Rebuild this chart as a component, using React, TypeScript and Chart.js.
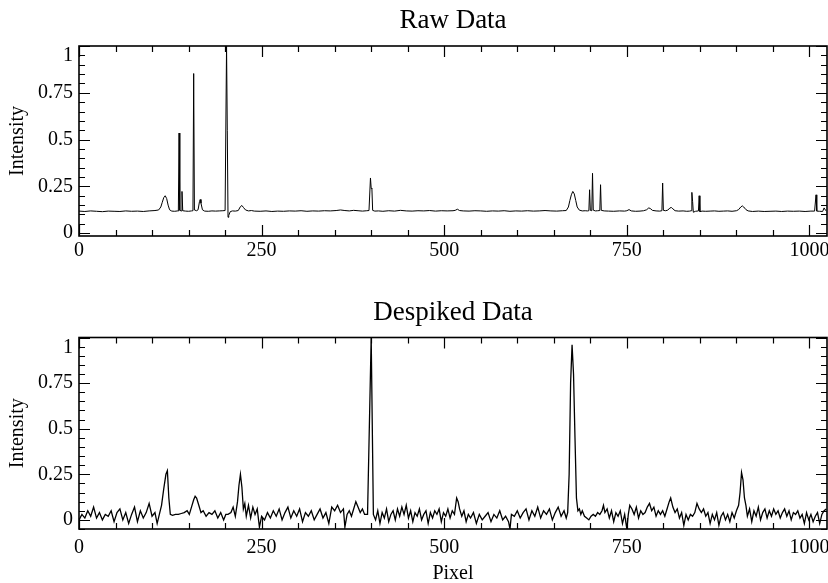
import React, { useEffect, useRef } from "react";
import { Chart, registerables } from "chart.js";

Chart.register(...registerables);

// ---------- data ----------
const rawPixel = [
  0, 8, 16, 24, 32, 40, 48, 56, 64, 72,
  80, 88, 96, 104, 109, 112, 114, 116, 118, 120,
  122, 124, 127, 131, 135, 136, 137, 138, 140, 141,
  142, 146, 150, 154, 156, 157, 158, 161, 163, 165,
  166, 167, 169, 172, 177, 182, 187, 192, 197, 200,
  202, 203, 204, 205, 207, 210, 214, 218, 221, 223,
  225, 228, 232, 236, 240, 248, 256, 264, 272, 280,
  288, 296, 304, 312, 320, 328, 336, 344, 352, 358,
  364, 370, 376, 382, 388, 394, 397, 399, 400, 401,
  402, 405, 410, 416, 424, 432, 440, 448, 456, 464,
  472, 480, 488, 496, 504, 512, 515, 518, 521, 526,
  534, 542, 550, 558, 566, 574, 582, 590, 598, 606,
  614, 622, 630, 638, 646, 654, 662, 667, 670, 672,
  674, 676, 678, 680, 682, 685, 689, 693, 696, 698,
  699, 700, 702, 703, 704, 707, 710, 713, 714, 715,
  719, 725, 732, 740, 747, 750, 753, 756, 762, 768,
  773, 777, 780, 782, 785, 790, 795, 798, 799, 800,
  803, 806, 809, 811, 813, 816, 821, 827, 832, 836,
  838, 839, 840, 841, 844, 848, 849, 850, 853, 858,
  864, 870, 876, 882, 888, 894, 900, 903, 906, 908,
  910, 913, 916, 922, 930, 938, 946, 954, 962, 970,
  978, 986, 994, 1002, 1007, 1009, 1010, 1014, 1018, 1020,
  1022, 1023,
];
const rawIntensity = [
  0.118, 0.116, 0.119, 0.117, 0.115, 0.118, 0.117, 0.116, 0.119, 0.117,
  0.118, 0.116, 0.119, 0.121, 0.124, 0.14, 0.165, 0.19, 0.2, 0.185,
  0.15, 0.125, 0.118, 0.117, 0.119, 0.118, 0.535, 0.122, 0.119, 0.223,
  0.12, 0.118, 0.117, 0.119, 0.12, 0.853, 0.124, 0.12, 0.125, 0.17,
  0.18, 0.16, 0.125, 0.118, 0.117, 0.119, 0.118, 0.119, 0.12, 0.121,
  1.0, 0.55, 0.085, 0.095, 0.115, 0.119, 0.118, 0.121, 0.142, 0.148,
  0.138, 0.124, 0.119, 0.121, 0.118, 0.117, 0.119, 0.116, 0.118, 0.117,
  0.119, 0.118, 0.12, 0.117, 0.119, 0.118, 0.12, 0.119, 0.121, 0.124,
  0.121, 0.119, 0.122, 0.12, 0.118, 0.12, 0.121, 0.295, 0.24, 0.236,
  0.122, 0.118, 0.119, 0.117, 0.12, 0.118, 0.122, 0.119, 0.118, 0.12,
  0.119, 0.121, 0.118, 0.12, 0.119, 0.12, 0.122, 0.128, 0.121, 0.119,
  0.118, 0.12, 0.119, 0.117, 0.119, 0.118, 0.12, 0.117, 0.119, 0.118,
  0.12, 0.118, 0.119, 0.121, 0.119, 0.118, 0.12, 0.121, 0.14, 0.175,
  0.205, 0.223, 0.21, 0.175, 0.14, 0.123, 0.119, 0.12, 0.119, 0.12,
  0.232, 0.122, 0.12, 0.32, 0.123, 0.119, 0.12, 0.121, 0.259, 0.122,
  0.119, 0.118, 0.117, 0.119, 0.118, 0.12, 0.126, 0.119, 0.117, 0.118,
  0.12, 0.125, 0.135, 0.132, 0.122, 0.119, 0.118, 0.12, 0.268, 0.122,
  0.12, 0.123, 0.135, 0.137, 0.13, 0.12, 0.118, 0.119, 0.117, 0.118,
  0.12, 0.218, 0.17, 0.112, 0.117, 0.119, 0.2, 0.115, 0.118, 0.117,
  0.118, 0.119, 0.117, 0.118, 0.119, 0.117, 0.12, 0.126, 0.14, 0.146,
  0.14, 0.126, 0.119, 0.116, 0.118, 0.116, 0.117, 0.118, 0.116, 0.118,
  0.117, 0.118, 0.116, 0.118, 0.118, 0.205, 0.118, 0.117, 0.116, 0.135,
  0.122, 0.12,
];

const despikedPixel = [
  0, 4, 8, 12, 16, 20, 24, 28, 32, 36,
  40, 44, 48, 52, 56, 60, 64, 68, 72, 76,
  80, 84, 88, 92, 96, 100, 104, 107, 110, 113,
  116, 119, 121, 123, 125, 128, 132, 136, 140, 144,
  148, 151, 154, 157, 159, 161, 164, 167, 170, 174,
  178, 182, 186, 190, 194, 198, 201, 204, 208, 211,
  214, 217, 219, 221, 223, 225, 227, 229, 232, 235,
  238, 241, 244, 247, 250, 254, 258, 262, 266, 270,
  274, 278, 282, 286, 290, 294, 298, 302, 306, 310,
  314, 318, 322, 326, 330, 334, 338, 342, 346, 350,
  354, 358, 362, 364, 367, 370, 373, 376, 379, 382,
  385, 388, 391, 395, 400, 403, 406, 409, 412, 415,
  418, 421, 424, 427, 430, 433, 436, 439, 442, 445,
  448, 451, 454, 457, 460, 463, 466, 469, 472, 475,
  478, 481, 484, 487, 490, 493, 496, 499, 502, 505,
  508, 511, 514, 517, 519, 521, 524, 527, 530, 533,
  536, 540, 544, 548, 552, 556, 560, 564, 568, 572,
  576, 580, 584, 588, 590, 592, 596, 600, 604, 608,
  612, 616, 620, 624, 628, 632, 636, 640, 644, 648,
  652, 656, 660, 664, 667, 669, 671, 673, 675, 677,
  679, 681, 683, 685, 687, 689, 692, 695, 698, 701,
  704, 707, 710, 713, 716, 718, 720, 723, 726, 729,
  732, 735, 738, 741, 744, 747, 750, 752, 754, 757,
  760, 763, 766, 769, 772, 775, 778, 781, 784, 787,
  790, 793, 796, 799, 802, 805, 808, 810, 813, 816,
  819, 822, 825, 828, 831, 834, 837, 840, 843, 846,
  849, 852, 855, 858, 861, 864, 867, 870, 873, 876,
  879, 882, 885, 888, 891, 894, 897, 900, 903, 905,
  907, 909, 911, 913, 915, 918, 921, 924, 927, 930,
  933, 936, 939, 942, 945, 948, 951, 954, 957, 960,
  963, 966, 969, 972, 975, 978, 981, 984, 987, 990,
  993, 996, 999, 1002, 1005, 1008, 1011, 1014, 1017, 1020,
  1023,
];
const despikedIntensity = [
  0, 0.03, 0.01, 0.05, 0.02, 0.07, 0.01, 0.04, 0, 0.03,
  0.02, 0.05, -0.01, 0.04, 0.06, 0, 0.04, -0.02, 0.03, 0.07,
  -0.01, 0.05, 0.01, 0.04, 0.09, 0.02, 0.04, -0.02, 0.03, 0.08,
  0.17, 0.25, 0.27, 0.12, 0.03, 0.025, 0.03, 0.03, 0.035, 0.04,
  0.05, 0.03, 0.07, 0.11, 0.13, 0.12, 0.08, 0.04, 0.05, 0.02,
  0.04, 0.03, 0.05, 0.01, 0.04, 0, 0.03, 0.03, 0.04, 0.07,
  0.02, 0.1, 0.19, 0.25, 0.18, 0.06, 0.09, 0.02, 0.08, 0.01,
  0.07, 0.03, 0.06, -0.04, 0.02, 0, 0.04, 0.01, 0.05, 0.02,
  0.06, 0, 0.04, 0.07, 0.01, 0.05, 0.02, 0.06, -0.01, 0.04,
  0.02, 0.05, 0, 0.03, 0.06, 0.01, 0.04, -0.02, 0.07, 0.05,
  0.08, 0.04, 0.06, -0.04, 0.03, 0.05, 0.02, 0.06, 0.1, 0.07,
  0.04, 0.06, 0.03, 0.03, 1.0, 0.03, 0, 0.05, -0.02, 0.04,
  0.01, 0.06, -0.01, 0.03, 0.05, 0, 0.06, 0.02, 0.07, 0.03,
  0.08, 0.01, 0.05, -0.01, 0.04, 0.02, 0.06, 0, 0.03, 0.05,
  -0.02, 0.04, 0.01, 0.05, 0.03, 0.06, -0.01, 0.04, 0.02, 0.06,
  0.01, 0.05, 0.03, 0.12, 0.1, 0.06, 0.02, 0.05, -0.01, 0.03,
  0.01, 0.04, -0.02, 0.03, 0, 0.02, 0.04, -0.01, 0.03, 0.01,
  0.05, 0, 0.02, -0.01, -0.05, 0.03, 0.02, 0.05, 0.01, 0.04,
  0.06, 0, 0.05, 0.02, 0.07, 0.01, 0.05, 0.03, 0.06, 0,
  0.04, 0.07, 0.02, 0.05, 0.01, 0.04, 0.25, 0.75, 0.96, 0.8,
  0.45, 0.12, 0.05, 0.06, 0.03, 0.05, 0.02, 0.01, 0, 0.02,
  0.03, 0.02, 0.04, 0.03, 0.05, 0.08, 0.04, 0.06, 0.01, 0.05,
  -0.01, 0.04, 0.02, 0.05, -0.02, 0.03, -0.05, 0.03, 0.08, 0.06,
  0.03, 0.07, 0.01, 0.05, 0.03, 0.04, 0.07, 0.09, 0.05, 0.07,
  0.02, 0.05, 0.03, 0.05, 0.02, 0.06, 0.1, 0.12, 0.07, 0.04,
  0.06, 0.01, 0.04, -0.03, 0.03, 0, 0.03, 0.02, 0.04, 0.09,
  0.06, 0.04, 0.06, 0.02, 0.04, -0.02, 0.03, 0, 0.04, -0.03,
  0.02, 0.04, 0, 0.03, -0.01, 0.04, 0.01, 0.05, 0.08, 0.15,
  0.26, 0.22, 0.12, 0.08, 0.02, 0.06, -0.01, 0.05, 0.02, 0.07,
  0, 0.04, 0.06, 0.01, 0.05, 0.02, 0.06, 0.03, 0.05, 0.01,
  0.04, 0.06, 0.02, 0.05, 0, 0.04, 0.03, 0.05, 0.01, 0.03,
  -0.02, 0.04, 0, 0.03, -0.01, 0.02, 0.04, -0.02, 0.03, 0.05,
  0.06,
];

const xTickValues = [0, 250, 500, 750, 1000];
const yTickValues = [0, 0.25, 0.5, 0.75, 1];
const X_MIN = 0;
const X_MAX = 1024;
const X_MINOR_STEP = 50;
const Y_MINOR_STEP = 0.05;

const SERIF = "'Liberation Serif', 'Times New Roman', 'DejaVu Serif', serif";

// IDL-like frame: box + inward major/minor ticks on all four sides
const framePlugin = {
  id: "idlFrame",
  afterDatasetsDraw(chart: any) {
    const { ctx, chartArea: a, scales } = chart;
    const xs = scales.x;
    const ys = scales.y;
    ctx.save();
    ctx.strokeStyle = "#000";
    ctx.lineWidth = 1.2;
    ctx.beginPath();
    const nx = Math.round((X_MAX - X_MIN) / X_MINOR_STEP);
    for (let i = 0; i <= nx; i++) {
      const v = X_MIN + i * X_MINOR_STEP;
      if (v > X_MAX) break;
      const major = xTickValues.includes(v);
      const len = major ? 11 : 6;
      const px = Math.round(xs.getPixelForValue(v)) + 0.5;
      ctx.moveTo(px, a.bottom);
      ctx.lineTo(px, a.bottom - len);
      ctx.moveTo(px, a.top);
      ctx.lineTo(px, a.top + len);
    }
    const kMin = Math.ceil(ys.min / Y_MINOR_STEP - 1e-6);
    const kMax = Math.floor(ys.max / Y_MINOR_STEP + 1e-6);
    for (let k = kMin; k <= kMax; k++) {
      const v = k * Y_MINOR_STEP;
      const major = k % 5 === 0;
      const len = major ? 11 : 6;
      const py = Math.round(ys.getPixelForValue(v)) + 0.5;
      ctx.moveTo(a.left, py);
      ctx.lineTo(a.left + len, py);
      ctx.moveTo(a.right, py);
      ctx.lineTo(a.right - len, py);
    }
    ctx.stroke();
    ctx.lineWidth = 1.6;
    ctx.strokeRect(a.left, a.top, a.right - a.left, a.bottom - a.top);
    ctx.restore();
  },
};

type PanelOpts = {
  pixel: number[];
  intensity: number[];
  title: string;
  yMin: number;
  yMax: number;
  titlePadTop: number;
  titlePadBottom: number;
  xLabelPad: number;
  xTitle: string | null;
  lineWidth: number;
};

function makeConfig(o: PanelOpts): any {
  return {
    type: "line",
    data: {
      datasets: [
        {
          data: o.pixel.map((x, i) => ({ x, y: o.intensity[i] })),
          borderColor: "#000",
          borderWidth: o.lineWidth,
          pointRadius: 0,
          tension: 0,
          fill: false,
        },
      ],
    },
    options: {
      animation: false,
      responsive: false,
      maintainAspectRatio: false,
      devicePixelRatio: 1,
      layout: { padding: { left: 0, right: 1, top: 0, bottom: 0 } },
      plugins: {
        legend: { display: false },
        tooltip: { enabled: false },
        title: {
          display: true,
          text: o.title,
          fullSize: false,
          color: "#000",
          font: { family: SERIF, size: 27, weight: "normal", lineHeight: 1.2 },
          padding: { top: o.titlePadTop, bottom: o.titlePadBottom },
        },
      },
      scales: {
        x: {
          type: "linear",
          min: X_MIN,
          max: X_MAX,
          grid: { display: false, drawTicks: false },
          border: { display: false },
          afterBuildTicks: (s: any) => {
            s.ticks = xTickValues.map((v) => ({ value: v }));
          },
          afterFit: (s: any) => {
            s.height = 54;
            s.paddingLeft = 0;
            s.paddingRight = 0;
          },
          ticks: {
            color: "#000",
            font: { family: SERIF, size: 20, lineHeight: 1.2 },
            padding: o.xLabelPad,
            maxRotation: 0,
            autoSkip: false,
            callback: (v: any) => String(v),
          },
          title: {
            display: !!o.xTitle,
            text: o.xTitle || "",
            color: "#000",
            font: { family: SERIF, size: 20, lineHeight: 0.9 },
            padding: { top: 0, bottom: 0 },
          },
        },
        y: {
          type: "linear",
          min: o.yMin,
          max: o.yMax,
          grid: { display: false, drawTicks: false },
          border: { display: false },
          afterBuildTicks: (s: any) => {
            s.ticks = yTickValues.map((v) => ({ value: v }));
          },
          afterFit: (s: any) => {
            s.width = 79;
            s.paddingTop = 0;
            s.paddingBottom = 0;
          },
          ticks: {
            color: "#000",
            font: { family: SERIF, size: 20, lineHeight: 1.0 },
            padding: 6,
            autoSkip: false,
            callback: (v: any) => (v === 1 ? ["", "1"] : String(v)),
          },
          title: {
            display: true,
            text: "Intensity",
            color: "#000",
            font: { family: SERIF, size: 20, lineHeight: 1.2 },
            padding: { top: 6, bottom: 0 },
          },
        },
      },
    },
    plugins: [framePlugin],
  };
}

export default function App() {
  const topRef = useRef<HTMLCanvasElement | null>(null);
  const bottomRef = useRef<HTMLCanvasElement | null>(null);

  useEffect(() => {
    const charts: Chart[] = [];
    if (topRef.current) {
      charts.push(
        new Chart(
          topRef.current,
          makeConfig({
            pixel: rawPixel,
            intensity: rawIntensity,
            title: "Raw Data",
            yMin: -0.015,
            yMax: 1.0,
            titlePadTop: 5,
            titlePadBottom: 8.6,
            xLabelPad: 3,
            xTitle: null,
            lineWidth: 1,
          })
        )
      );
    }
    if (bottomRef.current) {
      charts.push(
        new Chart(
          bottomRef.current,
          makeConfig({
            pixel: despikedPixel,
            intensity: despikedIntensity,
            title: "Despiked Data",
            yMin: -0.05,
            yMax: 1.0,
            titlePadTop: 7,
            titlePadBottom: 8.1,
            xLabelPad: 7,
            xTitle: "Pixel",
            lineWidth: 1.3,
          })
        )
      );
    }
    return () => charts.forEach((c) => c.destroy());
  }, []);

  return (
    <div
      style={{
        position: "absolute",
        left: 0,
        top: 0,
        width: 828,
        height: 583,
        background: "#fff",
      }}
    >
      <canvas ref={topRef} width={828} height={290} style={{ display: "block" }} />
      <canvas ref={bottomRef} width={828} height={293} style={{ display: "block" }} />
    </div>
  );
}
